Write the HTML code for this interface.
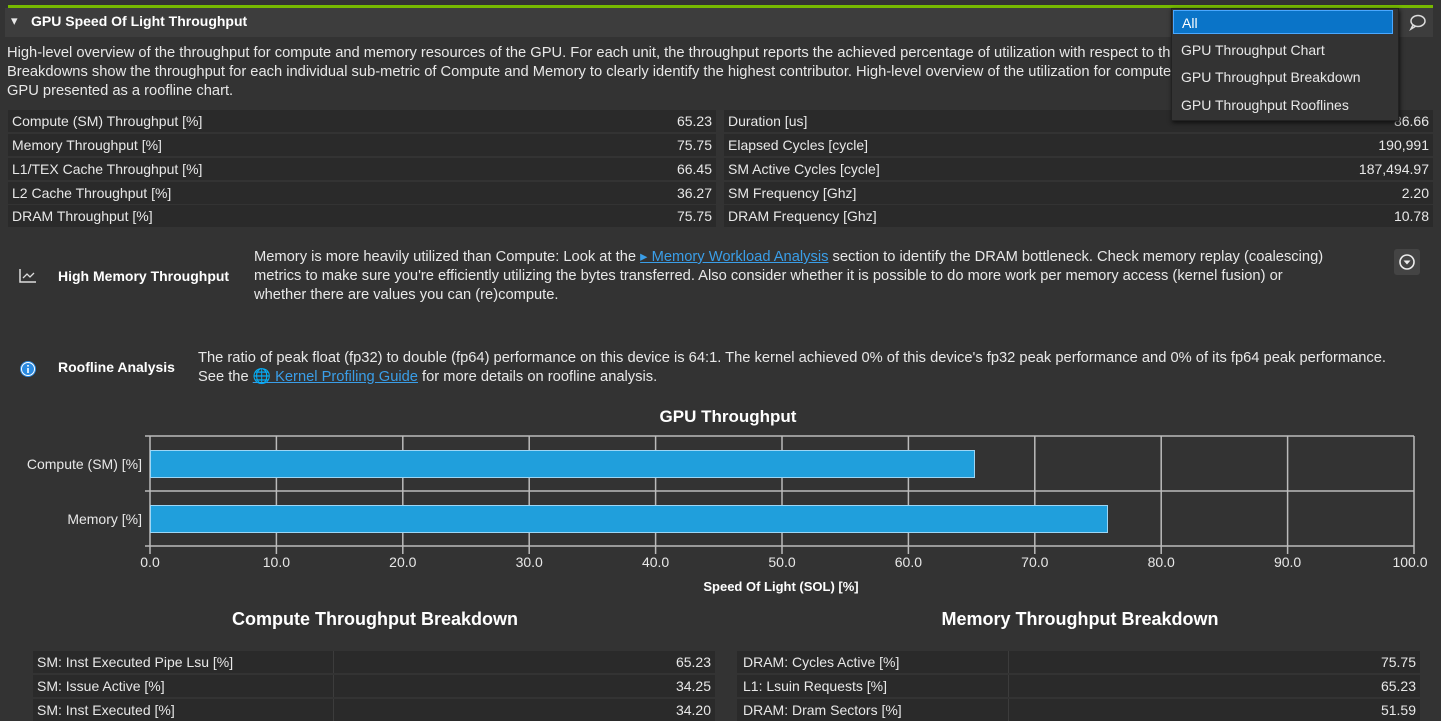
<!DOCTYPE html>
<html><head><meta charset="utf-8"><style>
body{margin:0;width:1441px;height:720px;background:#333333;overflow:hidden;position:relative;font-family:"Liberation Sans",sans-serif;color:#e8e8e8;font-size:14px}
.a{position:absolute;white-space:nowrap}
.p{font-size:14.7px}
.row{position:absolute;height:22px;background:#2a2a2a;line-height:22px}
.row span{position:absolute}
a{color:#3a9ee8;text-decoration:underline}
</style></head><body>
<div class="a" style="left:8px;top:5px;width:1425px;height:3px;background:#76b900"></div>
<div class="a" style="left:5px;top:8px;width:1428px;height:29px;background:#3d3d3d"></div>
<div class="a" style="left:11px;top:13px;font-size:13px">▾</div>
<div class="a" style="left:31px;top:13px;font-weight:bold;font-size:14px;color:#fff">GPU Speed Of Light Throughput</div>
<svg class="a" style="left:1408px;top:13px" width="20" height="18"><ellipse cx="10" cy="8" rx="7" ry="5.5" fill="none" stroke="#ddd" stroke-width="1.5"/><path d="M5 12 L3 16 L8 13" fill="none" stroke="#ddd" stroke-width="1.5"/></svg>
<div class="a p" style="left:7px;top:44px;line-height:19px">High-level overview of the throughput for compute and memory resources of the GPU. For each unit, the throughput reports the achieved percentage of utilization with respect to the theoretical maximum.<br>Breakdowns show the throughput for each individual sub-metric of Compute and Memory to clearly identify the highest contributor. High-level overview of the utilization for compute and memory resources of the<br>GPU presented as a roofline chart.</div>

<div class="row" style="left:8px;top:110px;width:708px"><span style="left:4px">Compute (SM) Throughput [%]</span><span style="right:4px">65.23</span></div>
<div class="row" style="left:8px;top:134px;width:708px"><span style="left:4px">Memory Throughput [%]</span><span style="right:4px">75.75</span></div>
<div class="row" style="left:8px;top:158px;width:708px"><span style="left:4px">L1/TEX Cache Throughput [%]</span><span style="right:4px">66.45</span></div>
<div class="row" style="left:8px;top:182px;width:708px"><span style="left:4px">L2 Cache Throughput [%]</span><span style="right:4px">36.27</span></div>
<div class="row" style="left:8px;top:205px;width:708px"><span style="left:4px">DRAM Throughput [%]</span><span style="right:4px">75.75</span></div>
<div class="row" style="left:724px;top:110px;width:709px"><span style="left:4px">Duration [us]</span><span style="right:4px">86.66</span></div>
<div class="row" style="left:724px;top:134px;width:709px"><span style="left:4px">Elapsed Cycles [cycle]</span><span style="right:4px">190,991</span></div>
<div class="row" style="left:724px;top:158px;width:709px"><span style="left:4px">SM Active Cycles [cycle]</span><span style="right:4px">187,494.97</span></div>
<div class="row" style="left:724px;top:182px;width:709px"><span style="left:4px">SM Frequency [Ghz]</span><span style="right:4px">2.20</span></div>
<div class="row" style="left:724px;top:205px;width:709px"><span style="left:4px">DRAM Frequency [Ghz]</span><span style="right:4px">10.78</span></div>

<div class="a" style="left:1171px;top:8px;width:226px;height:111px;background:#333;border:1px solid #222;box-shadow:1px 2px 4px #111"></div>
<div class="a" style="left:1173px;top:10px;width:220px;height:24px;background:#0a74c8;border:1px solid #4aa8ff;line-height:24px;padding-left:8px;box-sizing:border-box;color:#fff">All</div>
<div class="a" style="left:1181px;top:42px">GPU Throughput Chart</div>
<div class="a" style="left:1181px;top:69px">GPU Throughput Breakdown</div>
<div class="a" style="left:1181px;top:97px">GPU Throughput Rooflines</div>

<svg class="a" style="left:19px;top:268px" width="18" height="16"><path d="M1 1 V14 H17" fill="none" stroke="#ddd" stroke-width="1.5"/><path d="M4 10 L8 6 L11 9 L15 5" fill="none" stroke="#ddd" stroke-width="1.3"/></svg>
<div class="a" style="left:58px;top:268px;font-weight:bold;color:#fff">High Memory Throughput</div>
<div class="a p" style="left:254px;top:248px;line-height:19px">Memory is more heavily utilized than Compute: Look at the <a>▸ Memory Workload Analysis</a> section to identify the DRAM bottleneck. Check memory replay (coalescing)<br>metrics to make sure you're efficiently utilizing the bytes transferred. Also consider whether it is possible to do more work per memory access (kernel fusion) or<br>whether there are values you can (re)compute.</div>
<div class="a" style="left:1394px;top:249px;width:26px;height:26px;background:#444;border-radius:3px"></div>
<svg class="a" style="left:1398px;top:253px" width="18" height="18"><circle cx="9" cy="9" r="7" fill="none" stroke="#eee" stroke-width="1.6"/><path d="M5.5 7.5 H12.5 L9 11.5Z" fill="#eee"/></svg>

<svg class="a" style="left:19px;top:360px" width="18" height="18"><circle cx="9" cy="9" r="8" fill="#2a8ae0"/><circle cx="9" cy="9" r="6.5" fill="none" stroke="#fff" stroke-width="1"/><rect x="8.2" y="8" width="1.6" height="5" fill="#fff"/><rect x="8.2" y="5" width="1.6" height="1.6" fill="#fff"/></svg>
<div class="a" style="left:58px;top:359px;font-weight:bold;color:#fff">Roofline Analysis</div>
<div class="a p" style="left:198px;top:349px;line-height:19px">The ratio of peak float (fp32) to double (fp64) performance on this device is 64:1. The kernel achieved 0% of this device's fp32 peak performance and 0% of its fp64 peak performance.<br>See the <a>🌐 Kernel Profiling Guide</a> for more details on roofline analysis.</div>

<div class="a" style="left:0;width:1456px;text-align:center;top:407px;font-size:17px;font-weight:bold;color:#fff">GPU Throughput</div>
<svg class="a" style="left:0;top:430px" width="1441" height="140">
<g stroke="#bbb" stroke-width="1.5">
<line x1="150" y1="6" x2="1414" y2="6"/><line x1="150" y1="61" x2="1414" y2="61"/><line x1="150" y1="116" x2="1414" y2="116"/>
<line x1="150" y1="6" x2="150" y2="124"/>
<line x1="276.4" y1="6" x2="276.4" y2="124"/><line x1="402.8" y1="6" x2="402.8" y2="124"/><line x1="529.2" y1="6" x2="529.2" y2="124"/><line x1="655.6" y1="6" x2="655.6" y2="124"/><line x1="782" y1="6" x2="782" y2="124"/><line x1="908.4" y1="6" x2="908.4" y2="124"/><line x1="1034.8" y1="6" x2="1034.8" y2="124"/><line x1="1161.2" y1="6" x2="1161.2" y2="124"/><line x1="1287.6" y1="6" x2="1287.6" y2="124"/><line x1="1414" y1="6" x2="1414" y2="124"/>
<line x1="145" y1="6" x2="150" y2="6"/><line x1="145" y1="61" x2="150" y2="61"/><line x1="145" y1="116" x2="150" y2="116"/>
</g>
<rect x="150.5" y="20.5" width="824" height="27" fill="#209fdc" stroke="#9dd6f5" stroke-width="1"/>
<rect x="150.5" y="75.5" width="957" height="27" fill="#209fdc" stroke="#9dd6f5" stroke-width="1"/>
<g fill="#e8e8e8" font-family="Liberation Sans" font-size="14" text-anchor="end"><text x="142" y="39">Compute (SM) [%]</text><text x="142" y="94">Memory [%]</text></g>
<g fill="#e8e8e8" font-family="Liberation Sans" font-size="14" text-anchor="middle"><text x="150" y="137">0.0</text><text x="276.4" y="137">10.0</text><text x="402.8" y="137">20.0</text><text x="529.2" y="137">30.0</text><text x="655.6" y="137">40.0</text><text x="782" y="137">50.0</text><text x="908.4" y="137">60.0</text><text x="1034.8" y="137">70.0</text><text x="1161.2" y="137">80.0</text><text x="1287.6" y="137">90.0</text><text x="1410" y="137">100.0</text></g>
</svg>
<div class="a" style="left:0;width:1562px;text-align:center;top:579px;font-size:13px;font-weight:bold;color:#fff">Speed Of Light (SOL) [%]</div>

<div class="a" style="left:0;width:750px;text-align:center;top:609px;font-size:18px;font-weight:bold;color:#fff">Compute Throughput Breakdown</div>
<div class="a" style="left:737px;width:686px;text-align:center;top:609px;font-size:18px;font-weight:bold;color:#fff">Memory Throughput Breakdown</div>

<div class="row" style="left:33px;top:651px;width:682px"><span style="left:4px">SM: Inst Executed Pipe Lsu [%]</span><span style="left:300px;top:0;width:1px;height:22px;background:#3c3c3c"></span><span style="right:4px">65.23</span></div>
<div class="row" style="left:33px;top:675px;width:682px"><span style="left:4px">SM: Issue Active [%]</span><span style="left:300px;top:0;width:1px;height:22px;background:#3c3c3c"></span><span style="right:4px">34.25</span></div>
<div class="row" style="left:33px;top:699px;width:682px"><span style="left:4px">SM: Inst Executed [%]</span><span style="left:300px;top:0;width:1px;height:22px;background:#3c3c3c"></span><span style="right:4px">34.20</span></div>
<div class="row" style="left:737px;top:651px;width:683px"><span style="left:6px">DRAM: Cycles Active [%]</span><span style="left:271px;top:0;width:1px;height:22px;background:#3c3c3c"></span><span style="right:4px">75.75</span></div>
<div class="row" style="left:737px;top:675px;width:683px"><span style="left:6px">L1: Lsuin Requests [%]</span><span style="left:271px;top:0;width:1px;height:22px;background:#3c3c3c"></span><span style="right:4px">65.23</span></div>
<div class="row" style="left:737px;top:699px;width:683px"><span style="left:6px">DRAM: Dram Sectors [%]</span><span style="left:271px;top:0;width:1px;height:22px;background:#3c3c3c"></span><span style="right:4px">51.59</span></div>
</body></html>
